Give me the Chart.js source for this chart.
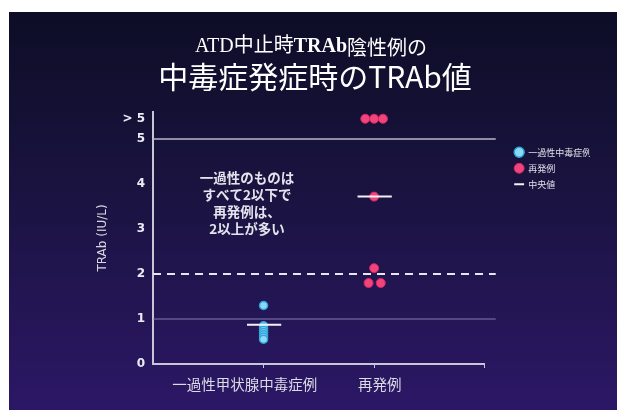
<!DOCTYPE html>
<html>
<head>
<meta charset="utf-8">
<script src="https://cdn.jsdelivr.net/npm/chart.js@4.4.0/dist/chart.umd.min.js"></script>
<style>
  html, body { margin: 0; padding: 0; background: #fff; }
  #wrap { width: 617px; height: 416px; }
</style>
</head>
<body>
<div id="wrap"><canvas id="myChart" width="617" height="416"></canvas></div>
<script>
// data
var categories = ['一過性甲状腺中毒症例', '再発例'];
var seriesNames = ['一過性中毒症例', '再発例', '中央値'];
var transientValues = [1.3, 0.85, 0.8, 0.75, 0.7, 0.65, 0.6, 0.55];
var transientJitter = [0, 0, 0, 0, 0, 0, 0, 0];
var relapseValues = [5.45, 5.45, 5.45, 3.72, 2.13, 1.8, 1.8];
var relapseJitter = [-0.08, 0, 0.08, 0, 0, -0.05, 0.06];
var medianValues = [0.87, 3.72];
var yTickValues = [0, 1, 2, 3, 4, 5, 5.45];
var refLevels = [1, 2, 5];
var noteLines = ['一過性のものは', 'すべて2以下で', '再発例は、', '2以上が多い'];

var JP = '"Noto Sans CJK JP", "Noto Sans", sans-serif';

document.addEventListener('DOMContentLoaded', function () {
    var ctx1 = document.getElementById('myChart').getContext('2d');

    function pts(values, jitter, cat) {
        return values.map(function (v, i) { return { x: cat + jitter[i], y: v }; });
    }

    var medianData = [];
    medianValues.forEach(function (m, i) {
        if (i > 0) medianData.push({ x: i + 0.5, y: null });
        medianData.push({ x: i + 1 - 0.15, y: m });
        medianData.push({ x: i + 1 + 0.16, y: m });
    });

    var refStyles = {
        1: { color: '#8579b8', width: 1.2, dash: [] },
        2: { color: '#e6e6f0', width: 2, dash: [8, 6] },
        5: { color: '#b9b7c9', width: 1.6, dash: [] }
    };
    var refSets = refLevels.map(function (lv) {
        return {
            type: 'line',
            label: 'ref' + lv,
            data: [{ x: 0, y: lv }, { x: 3.1, y: lv }],
            borderColor: refStyles[lv].color,
            borderWidth: refStyles[lv].width,
            borderDash: refStyles[lv].dash,
            pointRadius: 0,
            clip: false,
            order: 5
        };
    });

    var data1 = {
        datasets: [{
            type: 'scatter',
            label: seriesNames[0],
            data: pts(transientValues, transientJitter, 1),
            backgroundColor: '#8bd9f4',
            borderColor: '#2fa6dc',
            borderWidth: 1.5,
            pointRadius: 4,
            order: 1
        }, {
            type: 'scatter',
            label: seriesNames[1],
            data: pts(relapseValues, relapseJitter, 2),
            backgroundColor: '#f0447c',
            borderColor: '#dc2462',
            borderWidth: 1,
            pointRadius: 4.5,
            order: 2
        }, {
            type: 'line',
            label: seriesNames[2],
            data: medianData,
            borderColor: '#f2f2f6',
            borderWidth: 2,
            pointRadius: 0,
            pointStyle: 'line',
            spanGaps: false,
            order: 0
        }].concat(refSets)
    };

    var backdrop = {
        id: 'backdrop',
        beforeDraw: function (chart) {
            var c = chart.ctx;
            c.save();
            c.fillStyle = '#ffffff';
            c.fillRect(0, 0, chart.width, chart.height);
            var g = c.createLinearGradient(0, 12, 0, 410);
            g.addColorStop(0, '#0d0d26');
            g.addColorStop(0.45, '#1a1340');
            g.addColorStop(1, '#2c1766');
            c.fillStyle = g;
            c.fillRect(9, 12, chart.width - 9, 398);
            c.restore();
        },
        afterDraw: function (chart) {
            var c = chart.ctx;
            c.save();
            c.fillStyle = '#ffffff';
            c.textBaseline = 'middle';
            // first title line with bold TRAb
            var parts = [
                ['ATD中止時', '20px "Liberation Serif", "Noto Sans CJK JP", serif'],
                ['TRAb', 'bold 20px "Liberation Serif", serif'],
                ['陰性例の', '20px "Noto Sans CJK JP", serif']
            ];
            var total = 0;
            parts.forEach(function (p) { c.font = p[1]; total += c.measureText(p[0]).width; });
            var x = 311 - total / 2;
            c.textAlign = 'left';
            parts.forEach(function (p) {
                c.font = p[1];
                c.fillText(p[0], x, 47);
                x += c.measureText(p[0]).width;
            });
            c.textAlign = 'center';
            c.font = '30px "Noto Sans CJK JP", "Liberation Serif", sans-serif';
            c.fillText('中毒症発症時のTRAb値', 315, 77);
            // note in the plot
            c.font = 'bold 13.5px ' + JP;
            c.fillStyle = '#e4e4ee';
            noteLines.forEach(function (t, i) {
                c.fillText(t, 247, 178 + i * 17);
            });
            c.restore();
        }
    };

    var myChart1 = new Chart(ctx1, {
        data: data1,
        options: {
            responsive: false,
            animation: false,
            layout: { padding: { left: 96, top: 112, right: 27, bottom: 22 } },
            scales: {
                x: {
                    type: 'linear',
                    min: 0,
                    max: 3,
                    afterBuildTicks: function (scale) {
                        scale.ticks = [0.83, 1, 2, 2.05, 3].map(function (v) { return { value: v }; });
                    },
                    afterFit: function (scale) { scale.height = 30; },
                    ticks: {
                        color: '#dcdce6',
                        font: { family: JP, size: 14.5 },
                        padding: 8,
                        maxRotation: 0,
                        autoSkip: false,
                        callback: function (v) {
                            if (v === 0.83) return categories[0];
                            if (v === 2.05) return categories[1];
                            return '';
                        }
                    },
                    grid: {
                        drawOnChartArea: false,
                        tickLength: 4,
                        tickColor: function (c) {
                            var v = c.tick && c.tick.value;
                            return (v === 1 || v === 2 || v === 3) ? '#c8c6d6' : 'rgba(0,0,0,0)';
                        }
                    },
                    border: { color: '#c8c6d6', width: 2 }
                },
                y: {
                    min: 0,
                    max: 5.6,
                    afterBuildTicks: function (scale) {
                        scale.ticks = yTickValues.map(function (v) { return { value: v }; });
                    },
                    afterFit: function (scale) { scale.width = 57; },
                    ticks: {
                        color: '#ececf4',
                        font: { family: 'DejaVu Sans', size: 12, weight: 'bold' },
                        padding: 8,
                        autoSkip: false,
                        callback: function (v) { return v === 5.45 ? '> 5' : String(v); }
                    },
                    grid: { drawOnChartArea: false, drawTicks: false },
                    border: { color: '#c8c6d6', width: 2 },
                    title: {
                        display: true,
                        text: 'TRAb (IU/L)',
                        color: '#d8d8e2',
                        font: { family: 'DejaVu Sans', size: 12 },
                        padding: { top: 0, bottom: 8 }
                    }
                },
                // empty spacer between the plot and the legend
                gap: {
                    position: 'right',
                    min: 0,
                    max: 1,
                    afterFit: function (scale) { scale.width = 23; },
                    ticks: { display: false },
                    grid: { display: false, drawTicks: false },
                    border: { display: false }
                }
            },
            plugins: {
                legend: {
                    position: 'right',
                    align: 'start',
                    title: { display: true, text: ' ', padding: { top: 18, bottom: 0 }, font: { size: 9 } },
                    labels: {
                        color: '#e0e0ea',
                        font: { family: JP, size: 9 },
                        usePointStyle: true,
                        boxHeight: 7,
                        padding: 7,
                        filter: function (item) { return item.datasetIndex < 3; },
                        sort: function (a, b) { return a.datasetIndex - b.datasetIndex; }
                    }
                },
                tooltip: { enabled: false }
            }
        },
        plugins: [backdrop]
    });
});
</script>
</body>
</html>
